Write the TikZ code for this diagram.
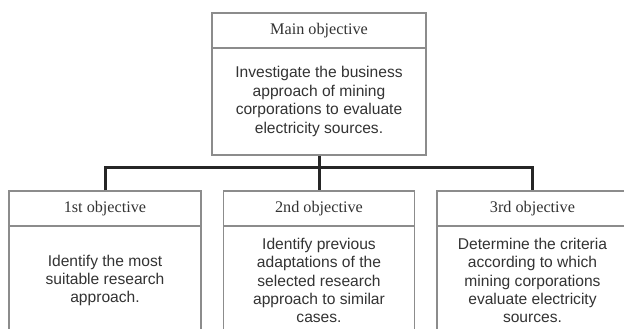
\documentclass[tikz,border=0pt]{standalone}
\usepackage{fontspec}
\setmainfont{Liberation Serif}
\setsansfont{Liberation Sans}
\definecolor{boxgray}{HTML}{8C8C8C}
\definecolor{linedark}{HTML}{262626}
\definecolor{txt}{HTML}{333333}
\begin{document}
\begin{tikzpicture}[x=1pt,y=1pt,
  titlebox/.style={draw=boxgray,line width=1.5pt,fill=white,minimum width=#1,minimum height=35pt,inner sep=0pt,
    font=\fontsize{16.2}{18}\selectfont\rmfamily,text=txt},
  bodybox/.style n args={2}{draw=boxgray,line width=1.5pt,fill=white,minimum width=#1,minimum height=#2,inner sep=0pt,
    font=\fontsize{15.6}{18.4}\selectfont\sffamily,text=txt,align=center},
  conn/.style={draw=linedark,line width=3pt}]
\useasboundingbox (0,0) rectangle (624,-329);
\clip (0,0) rectangle (624,-329);
\fill[white] (0,0) rectangle (624,-329);
% main
\node[bodybox={214pt}{107pt}] (mainB) at (319,-101.5) {Investigate the business\\approach of mining\\corporations to evaluate\\electricity sources.};
\node[titlebox=214pt] (mainT) at (319,-30.5) {Main objective};
% objectives
\node[bodybox={192pt}{109pt}] (b1) at (105,-280.5) {Identify the most\\suitable research\\approach.};
\node[titlebox=192pt] (t1) at (105,-208.5) {1st objective};
\node[bodybox={191pt}{109pt}] (b2) at (319,-280.5) {Identify previous\\adaptations of the\\selected research\\approach to similar\\cases.};
\node[titlebox=191pt] (t2) at (319,-208.5) {2nd objective};
\node[bodybox={191pt}{109pt}] (b3) at (532.5,-280.5) {Determine the criteria\\according to which\\mining corporations\\evaluate electricity\\sources.};
\node[titlebox=191pt] (t3) at (532.5,-208.5) {3rd objective};
% connectors
\coordinate (hm) at (319,-167);
\draw[conn] (mainB.south) -- (t2.north);
\draw[conn] (t1.north) |- (hm) -| (t3.north);
\end{tikzpicture}
\end{document}
